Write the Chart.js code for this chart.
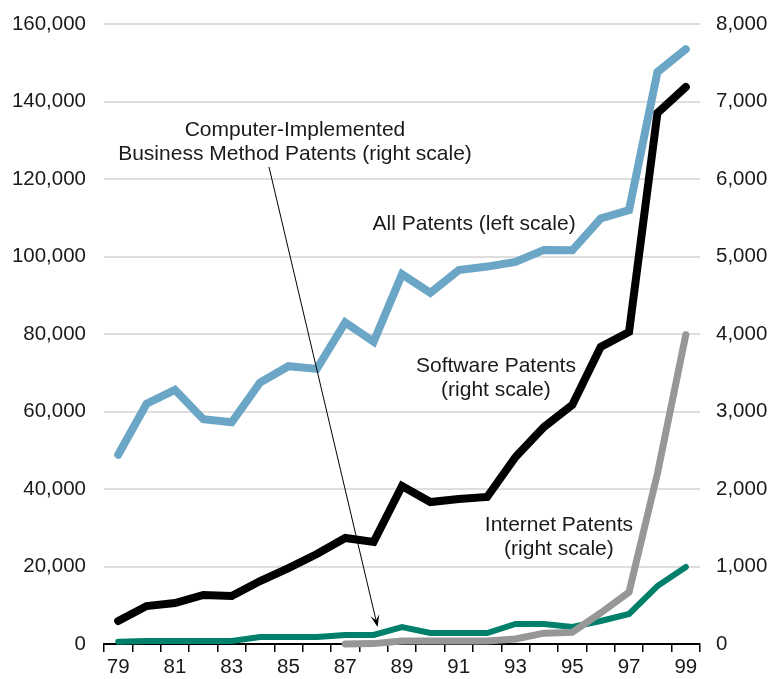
<!DOCTYPE html>
<html>
<head>
<meta charset="utf-8">
<script src="https://cdn.jsdelivr.net/npm/chart.js@4.4.1/dist/chart.umd.min.js"></script>
<style>
  html, body { margin: 0; padding: 0; background: #ffffff; }
  #wrap { width: 776px; height: 679px; }
</style>
</head>
<body>
<div id="wrap"><canvas id="c" width="776" height="679"></canvas></div>
<script>
// ---- Data ----
const years = ["79","80","81","82","83","84","85","86","87","88","89","90","91","92","93","94","95","96","97","98","99"];
const allPatents = [48854, 62000, 65600, 58000, 57200, 67500, 71700, 71000, 83000, 78000, 95400, 90600, 96500, 97400, 98600, 101700, 101600, 109800, 112000, 147600, 153500];
const softwarePatents = [297, 490, 529, 632, 619, 813, 980, 1161, 1368, 1316, 2039, 1832, 1871, 1897, 2413, 2800, 3084, 3832, 4026, 6851, 7187];
const internetPatents = [null, null, null, null, null, null, null, null, 0, 5, 40, 40, 40, 40, 65, 140, 150, 400, 670, 2200, 3990];
const businessMethodPatents = [30, 40, 40, 40, 40, 90, 90, 90, 116, 116, 219, 142, 142, 142, 258, 258, 219, 297, 387, 748, 994];
const leftTicks = [0, 20000, 40000, 60000, 80000, 100000, 120000, 140000, 160000];
const rightTicks = [0, 1000, 2000, 3000, 4000, 5000, 6000, 7000, 8000];

// Text annotations: x = category index (fractional), y = left-scale value of baseline
const annotations = [
  { lines: ["Computer-Implemented", "Business Method Patents (right scale)"], x: 6.23, y: 131100 },
  { lines: ["All Patents (left scale)"], x: 12.54, y: 106800 },
  { lines: ["Software Patents", "(right scale)"], x: 13.31, y: 70200 },
  { lines: ["Internet Patents", "(right scale)"], x: 15.53, y: 29100 }
];

const FONT = "'Liberation Sans', Arial, Helvetica, sans-serif";
const TEXT = '#1a1a1a';

const annotationPlugin = {
  id: 'annots',
  afterDatasetsDraw(chart) {
    const ctx = chart.ctx;
    const xs = chart.scales.x, yl = chart.scales.yLeft, yr = chart.scales.yRight;
    const step = xs.getPixelForValue(1) - xs.getPixelForValue(0);
    ctx.save();
    ctx.fillStyle = TEXT;
    ctx.font = "21px " + FONT;
    ctx.textAlign = 'center';
    ctx.textBaseline = 'alphabetic';
    annotations.forEach(a => {
      const px = xs.getPixelForValue(0) + a.x * step;
      const py = yl.getPixelForValue(a.y);
      a.lines.forEach((t, i) => ctx.fillText(t, px, py + i * 24));
    });
    // arrow from the business method label to its line (year 88)
    const a0 = annotations[0];
    const sx = xs.getPixelForValue(0) + a0.x * step - 26;
    const sy = yl.getPixelForValue(a0.y) + 24 + 7;
    const ex = xs.getPixelForValue(9) + 4;
    const ey = yr.getPixelForValue(businessMethodPatents[9]) - 8;
    const ang = Math.atan2(ey - sy, ex - sx);
    const L = 12, W = 4.5;
    ctx.strokeStyle = '#000';
    ctx.lineWidth = 1;
    ctx.beginPath();
    ctx.moveTo(sx, sy);
    ctx.lineTo(ex - Math.cos(ang) * 6, ey - Math.sin(ang) * 6);
    ctx.stroke();
    ctx.fillStyle = '#000';
    ctx.beginPath();
    ctx.moveTo(ex, ey);
    ctx.lineTo(ex - L * Math.cos(ang) + W * Math.sin(ang), ey - L * Math.sin(ang) - W * Math.cos(ang));
    ctx.lineTo(ex - 7 * Math.cos(ang), ey - 7 * Math.sin(ang));
    ctx.lineTo(ex - L * Math.cos(ang) - W * Math.sin(ang), ey - L * Math.sin(ang) + W * Math.cos(ang));
    ctx.closePath();
    ctx.fill();
    ctx.restore();
  }
};

const common = { pointRadius: 0, pointHoverRadius: 0, tension: 0, borderCapStyle: 'round', borderJoinStyle: 'miter', clip: false, fill: false };

const fitY = w => s => { s.width = w; s.paddingTop = 0; s.paddingBottom = 0; };

new Chart(document.getElementById('c'), {
  type: 'line',
  data: {
    labels: years,
    datasets: [
      Object.assign({ label: 'Internet Patents', data: internetPatents, borderColor: '#979797', borderWidth: 7, yAxisID: 'yRight' }, common),
      Object.assign({ label: 'Computer-Implemented Business Method Patents', data: businessMethodPatents, borderColor: '#00806a', borderWidth: 6, yAxisID: 'yRight' }, common),
      Object.assign({ label: 'Software Patents', data: softwarePatents, borderColor: '#000000', borderWidth: 8, yAxisID: 'yRight' }, common),
      Object.assign({ label: 'All Patents', data: allPatents, borderColor: '#6ba6c7', borderWidth: 8, yAxisID: 'yLeft' }, common)
    ]
  },
  options: {
    responsive: false,
    animation: false,
    events: [],
    layout: { padding: { top: 24, left: 0, right: 0, bottom: 0 } },
    plugins: { legend: { display: false }, tooltip: { enabled: false } },
    scales: {
      x: {
        type: 'category',
        offset: true,
        grid: { offset: true, drawOnChartArea: false, drawTicks: true, tickLength: 8, color: '#000', lineWidth: 1.5 },
        border: { display: true, color: '#000', width: 2 },
        ticks: {
          autoSkip: false, maxRotation: 0, minRotation: 0, padding: 3,
          color: TEXT, font: { family: FONT, size: 20.5 },
          callback: (v, i) => (i % 2 === 0 ? years[i] : '')
        },
        afterFit: s => { s.height = 35; s.paddingLeft = 0; s.paddingRight = 0; }
      },
      yLeft: {
        position: 'left', min: leftTicks[0], max: leftTicks[leftTicks.length - 1],
        afterBuildTicks: s => { s.ticks = leftTicks.map(v => ({ value: v })); },
        grid: { drawTicks: false, lineWidth: 2, color: c => (c.tick && c.tick.value === 0 ? 'rgba(0,0,0,0)' : '#dedede') },
        border: { display: false },
        ticks: { padding: 18, color: TEXT, font: { family: FONT, size: 20.5 }, callback: v => Number(v).toLocaleString('en-US') },
        afterFit: fitY(104)
      },
      yRight: {
        position: 'right', min: rightTicks[0], max: rightTicks[rightTicks.length - 1],
        afterBuildTicks: s => { s.ticks = rightTicks.map(v => ({ value: v })); },
        grid: { display: false, drawTicks: false },
        border: { display: false },
        ticks: { padding: 16, color: TEXT, font: { family: FONT, size: 20.5 }, callback: v => Number(v).toLocaleString('en-US') },
        afterFit: fitY(76)
      }
    }
  },
  plugins: [annotationPlugin]
});
</script>
</body>
</html>
